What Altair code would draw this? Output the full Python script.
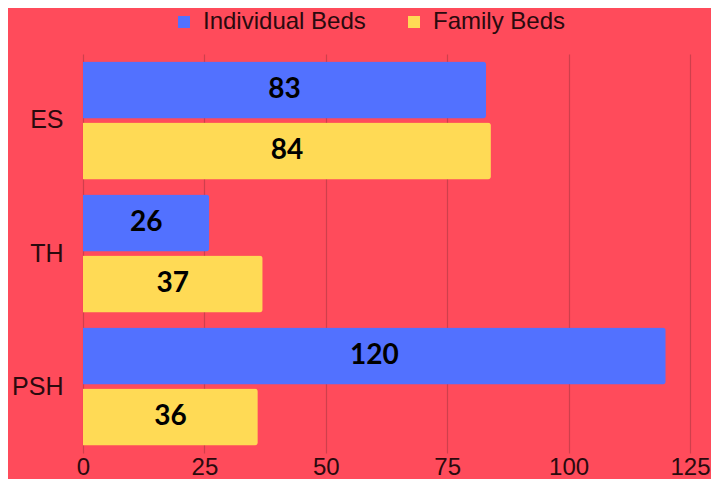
import altair as alt
import pandas as pd

categories = ["ES", "TH", "PSH"]
series = ["Individual Beds", "Family Beds"]
individual = [83, 26, 120]
family = [84, 37, 36]
x_ticks = [0, 25, 50, 75, 100, 125]

rows = []
for c, i, f in zip(categories, individual, family):
    rows.append({"cat": c, "series": series[0], "value": i})
    rows.append({"cat": c, "series": series[1], "value": f})
df = pd.DataFrame(rows)

BG = "#FF4B5B"
TXT = "#2a0a0e"
colors = ["#5271FF", "#FFDA55"]

y = alt.Y("cat:N", sort=categories, title=None,
          scale=alt.Scale(paddingInner=0.113, paddingOuter=0.056),
          axis=alt.Axis(labelFont="Liberation Sans", labelFontSize=25, labelColor=TXT,
                        ticks=False, domain=False, labelPadding=20))
yoff = alt.YOffset("series:N", sort=series, scale=alt.Scale(paddingInner=0.065))

xscale = alt.Scale(domain=[0, 125], nice=False)

bars = alt.Chart(df).mark_bar(cornerRadiusTopRight=3, cornerRadiusBottomRight=3).encode(
    x=alt.X("value:Q", title=None, scale=xscale,
            axis=alt.Axis(values=x_ticks, labelFont="Liberation Sans",
                          labelFontSize=24, labelColor=TXT, ticks=False, domain=False,
                          gridColor="#CF3F4C", gridWidth=1.2, labelPadding=2,
                          labelFlush=False)),
    y=y,
    yOffset=yoff,
    color=alt.Color("series:N", sort=series, scale=alt.Scale(domain=series, range=colors),
                    legend=alt.Legend(title=None, orient="none", direction="horizontal",
                                      legendX=89, legendY=-44, symbolType="square",
                                      symbolSize=144, symbolStrokeWidth=0,
                                      labelFont="Liberation Sans", labelFontSize=24,
                                      labelLimit=400,
                                      labelColor=TXT, columnPadding=36, labelOffset=7)),
)

labels = alt.Chart(df).transform_calculate(mid="datum.value / 2").mark_text(
    font="Lato", fontWeight="bold", fontSize=28, color="#000000", baseline="middle"
).encode(
    x=alt.X("mid:Q", scale=xscale),
    y=y,
    yOffset=yoff,
    text="value:Q",
)

chart = (bars + labels).properties(
    width=607, height=399, background=BG,
    autosize=alt.AutoSizeParams(type="none"),
    padding={"left": 75, "top": 46, "right": 21, "bottom": 26},
).configure_view(stroke=None, fill=BG)

chart.save("out.html", embed_options={"renderer": "svg", "actions": False})
